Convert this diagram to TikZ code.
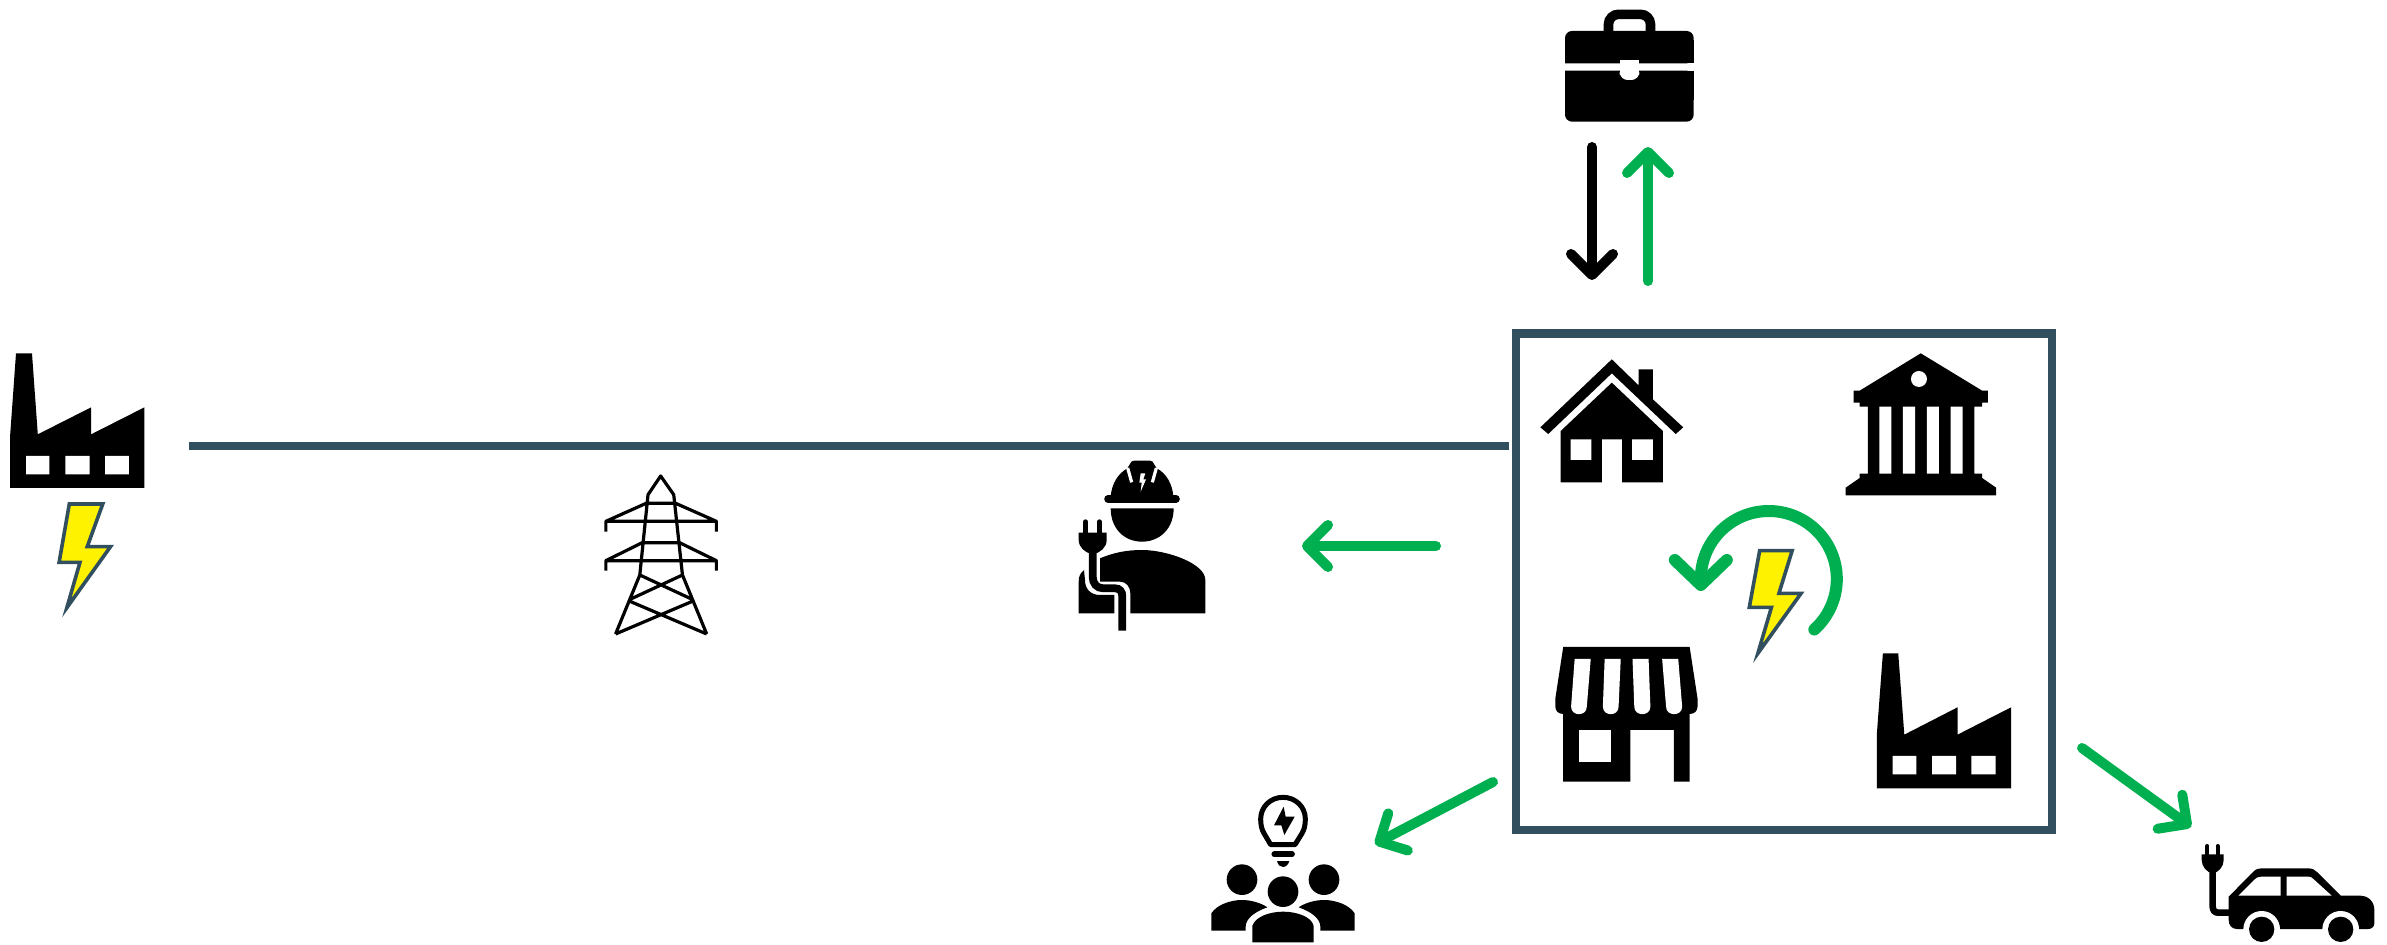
\documentclass[tikz,border=0pt]{standalone}
\usetikzlibrary{arrows.meta}
\definecolor{boxblue}{HTML}{314F5F}
\definecolor{flowgreen}{HTML}{00B050}
\tikzset{
  greenflow/.style={draw=flowgreen,line width=5pt,line cap=round,-{Straight Barb[round,length=10.5pt,width=21pt]}},
  blackflow/.style={draw=black,line width=5pt,line cap=round,-{Straight Barb[round,length=10.5pt,width=21pt]}},
  boltshape/.style={fill=yellow,draw=boxblue,line width=1.8pt,line join=miter},
  zone one/.style={shift={(0,320)},xscale=0.48469,yscale=0.33333},
  zone box/.style={shift={(1500,320)},xscale=0.35714,yscale=0.33333},
  zone worker/.style={shift={(1040,440)},scale=0.33333},
  zone case/.style={shift={(1520,0)},scale=0.33333},
  zone people/.style={shift={(1180,770)},scale=0.33333},
  zone car/.style={shift={(2130,760)},scale=0.33333},
}
\begin{document}
\begin{tikzpicture}[x=0.5pt,y=-0.5pt]
\useasboundingbox (0,0) rectangle (2387,945);
% named ends
\coordinate (gridA) at (189,446);
\coordinate (gridB) at (1509,446);
\coordinate (wS) at (1436,546);
\coordinate (wE) at (1302,546);
\coordinate (bS) at (1592,147);
\coordinate (bE) at (1592,280);
\coordinate (gS) at (1648,281);
\coordinate (gE) at (1648,147);
\coordinate (pS) at (1493,782);
\coordinate (pE) at (1375,844);
\coordinate (cS) at (2082,748);
\coordinate (cE) at (2191,827);
% grid line and box
\draw[boxblue,line width=4.3pt] (gridA) -- (gridB);
\draw[boxblue,line width=4.3pt] (1516,333.5) rectangle (2052,830);
% factory 1, bolt 1, tower
\begin{scope}[zone one]
  \fill (33,100) -- (66,100) -- (78,343) -- (188,262) -- (188,343) -- (298,262) -- (298,504) -- (21,504) -- (21,345) -- cycle;
  \fill[white] (54,408) rectangle (102,463) (135,408) rectangle (185,463) (217,408) rectangle (266,463);
  \path[boltshape] (143,552) -- (212,552) -- (180,680) -- (228,680) -- (138,863) -- (165,727) -- (122,727) -- cycle;
  \draw[line width=1.6pt,line join=round]
    (1270,942) -- (1320,765) -- (1337,524) -- (1363,468) -- (1390,524) -- (1408,765) -- (1458,942)
    (1250,635) -- (1250,604) -- (1333,550) -- (1394,550) -- (1478,604) -- (1478,635)
    (1250,604) -- (1478,604)
    (1250,752) -- (1250,722) -- (1325,668) -- (1402,668) -- (1478,722) -- (1478,752)
    (1250,722) -- (1478,722)
    (1320,765) -- (1428,838) (1408,765) -- (1300,838)
    (1298,843) -- (1458,942) (1430,843) -- (1270,942);
\end{scope}
% worker
\begin{scope}[zone worker]
  \fill (212,170) .. controls (215,130) and (235,100) .. (262,85) -- (270,72) .. controls (272,66) and (276,62) .. (282,62) -- (330,62) .. controls (336,62) and (340,66) .. (342,72) -- (350,85) .. controls (380,100) and (398,135) .. (400,170) -- cycle;
  \draw[line width=3.8pt,line cap=round] (204,176.5) -- (408,176.5);
  \draw[white,line width=1.6pt] (263,84) -- (275,127) (349,84) -- (337,127);
  \fill[white] (302,100) -- (316,100) -- (310,118) -- (318,118) -- (302,155) -- (305,128) -- (298,128) -- cycle;
  \fill (212,205) -- (401,205) .. controls (401,265) and (360,305) .. (306,305) .. controls (252,305) and (212,265) .. (212,205) -- cycle;
  \fill (180,355) .. controls (220,338) and (260,330) .. (306,330) .. controls (380,330) and (496,370) .. (496,420) -- (496,520) -- (271,520) -- (271,460) .. controls (271,440) and (258,425) .. (240,425) -- (180,425) -- cycle;
  \fill (132,390) .. controls (120,400) and (116,410) .. (116,425) -- (116,520) -- (223,520) -- (223,465) -- (180,465) .. controls (150,465) and (135,445) .. (135,420) -- cycle;
  \fill (116,278) -- (200,278) -- (200,300) .. controls (200,322) and (180,340) .. (158,342) .. controls (136,340) and (116,322) .. (116,300) -- cycle;
  \draw[line width=2.7pt,line cap=round] (137,246) -- (137,280) (178,246) -- (178,280);
  \draw[line width=3.9pt] (158,330) -- (158,410) .. controls (158,430) and (170,445) .. (190,445) -- (225,445) .. controls (240,445) and (247,455) .. (247,470) -- (247,572);
\end{scope}
% box content
\begin{scope}[zone box]
  % house
  \fill (113,322) -- (313,118) -- (388,196) -- (388,148) -- (428,148) -- (428,238) -- (513,322) -- (492,342) -- (313,160) -- (135,342) -- cycle;
  \fill (170,333) -- (313,188) -- (456,333) -- (456,487) -- (342,487) -- (342,358) -- (285,358) -- (285,487) -- (170,487) -- cycle;
  \fill[white] (198,358) rectangle (256,420) (370,358) rectangle (428,420);
  % bank
  \fill (1178,100) -- (1350,212) -- (1366,212) -- (1366,248) -- (1350,248) -- (1350,260) -- (1328,260) -- (1328,461) -- (1350,461) -- (1350,474) -- (1389,503) -- (1389,526) -- (968,526) -- (968,503) -- (1007,474) -- (1007,461) -- (1030,461) -- (1030,260) -- (1007,260) -- (1007,248) -- (990,248) -- (990,212) -- (1007,212) -- cycle;
  \fill[white] (1062,260) rectangle (1096,461) (1128,260) rectangle (1162,461) (1195,260) rectangle (1229,461) (1262,260) rectangle (1295,461);
  \fill[white] (1173,177) ellipse [x radius=22.4,y radius=24];
  % shop
  \fill (177,981) -- (531,981) -- (553,1135) -- (553,1160) .. controls (553,1172) and (545,1182) .. (531,1182) -- (531,1385) -- (487,1385) -- (487,1230) -- (365,1230) -- (365,1385) -- (177,1385) -- (177,1182) .. controls (163,1182) and (155,1172) .. (155,1160) -- (155,1135) -- cycle;
  \fill[white] (221,1230) rectangle (311,1325);
  \fill[white] (209,1017) -- (254,1017) -- (243,1160) .. controls (243,1190) and (199,1190) .. (199,1160) -- cycle;
  \fill[white] (293,1017) -- (338,1017) -- (332,1160) .. controls (332,1190) and (288,1190) .. (288,1160) -- cycle;
  \fill[white] (371,1017) -- (416,1017) -- (421,1160) .. controls (421,1190) and (376,1190) .. (376,1160) -- cycle;
  \fill[white] (454,1017) -- (499,1017) -- (510,1160) .. controls (510,1190) and (465,1190) .. (465,1160) -- cycle;
  % factory 2
  \fill (1072,1000) -- (1115,1000) -- (1132,1244) -- (1281,1162) -- (1281,1244) -- (1431,1162) -- (1431,1405) -- (1055,1405) -- (1055,1244) -- cycle;
  \fill[white] (1099,1308) rectangle (1166,1363) (1210,1308) rectangle (1277,1363) (1320,1308) rectangle (1388,1363);
  % bolt 2
  \path[boltshape] (727,692) -- (818,692) -- (781,820) -- (843,820) -- (722,1000) -- (760,862) -- (698,862) -- cycle;
\end{scope}
% cycle arrow
\draw[draw=flowgreen,line width=6pt,line cap=round,-{Straight Barb[round,length=12.5pt,width=26pt]},variable=\t]
  plot[domain=48:-180,samples=80,smooth] ({1768.8+68*cos(\t)},{579+68*sin(\t)}) -- (1700.8,591);
% briefcase
\begin{scope}[zone case]
  \draw[line width=4.8pt,rounded corners=5pt] (265.5,95) -- (265.5,43) -- (391.5,43) -- (391.5,95);
  \fill[rounded corners=3.5pt] (135,190) -- (135,93) -- (521,93) -- (521,190) [sharp corners] -- cycle;
  \fill (135,190) rectangle (521,120);
  \fill[rounded corners=3.5pt] (135,212) -- (135,365) -- (521,365) -- (521,212) [sharp corners] -- cycle;
  \fill (135,212) rectangle (521,300);
  \fill[white] (299,180) rectangle (358,215);
  \fill[white,rounded corners=4pt] (299,200) -- (299,240) -- (358,240) -- (358,200) -- cycle;
\end{scope}
% people and bulb
\begin{scope}[zone people]
  \draw[line width=2.5pt,line join=round] (272,224) -- (345,224) -- (366,190) .. controls (373,178) and (376,165) .. (376,147) .. controls (376,110) and (346,82) .. (309,82) .. controls (272,82) and (242,110) .. (242,147) .. controls (242,165) and (245,178) .. (252,190) -- cycle;
  \fill (311,110) -- (282,166) -- (304,166) -- (313,195) -- (344,140) -- (317,140) -- cycle;
  \draw[line width=2.9pt,line cap=round] (283,253) -- (336,253);
  \fill (291,273) -- (328,273) .. controls (325,285) and (316,291) .. (309,291) .. controls (302,291) and (293,285) .. (291,273) -- cycle;
  \fill (186,329) circle [radius=46];
  \fill (432,329) circle [radius=46];
  \fill (309,365) circle [radius=46];
  \fill (94,482) -- (94,430) .. controls (110,405) and (150,390) .. (186,390) .. controls (215,390) and (245,400) .. (262,412) .. controls (225,425) and (197,445) .. (197,470) -- (197,482) -- cycle;
  \fill (524,482) -- (524,430) .. controls (508,405) and (468,390) .. (432,390) .. controls (403,390) and (373,400) .. (356,412) .. controls (393,425) and (421,445) .. (421,470) -- (421,482) -- cycle;
  \fill (217,517) -- (217,468) .. controls (225,440) and (270,425) .. (309,425) .. controls (350,425) and (395,440) .. (401,468) -- (401,517) -- cycle;
\end{scope}
% car
\begin{scope}[zone car]
  \fill (296,410) -- (370,335) .. controls (378,327) and (385,325) .. (395,325) -- (535,325) .. controls (548,325) and (555,330) .. (562,337) -- (632,407) -- (690,407) .. controls (715,407) and (733,425) .. (733,450) -- (733,490) .. controls (733,500) and (725,507) .. (715,507) -- (320,507) .. controls (305,507) and (296,495) .. (296,480) -- cycle;
  \fill[white] (325,407) -- (372,360) .. controls (378,353) and (385,350) .. (395,350) -- (452,350) -- (452,407) -- cycle;
  \fill[white] (470,350) -- (535,350) .. controls (542,350) and (545,352) .. (550,357) -- (605,407) -- (470,407) -- cycle;
  \fill[white] (395,508) circle [radius=55] (632,508) circle [radius=55];
  \fill (395,508) circle [radius=38] (632,508) circle [radius=38];
  \fill (215,283) -- (281,283) -- (281,300) .. controls (281,320) and (265,338) .. (248,340) .. controls (231,338) and (215,320) .. (215,300) -- cycle;
  \draw[line width=2pt,line cap=round] (232,258) -- (232,285) (263,258) -- (263,285);
  \draw[line width=3.3pt] (248,330) -- (248,440) .. controls (248,450) and (254,458) .. (264,458) -- (300,458);
\end{scope}
% flows
\draw[greenflow] (wS) -- (wE);
\draw[blackflow] (bS) -- (bE);
\draw[greenflow] (gS) -- (gE);
\draw[greenflow] (pS) -- (pE);
\draw[greenflow] (cS) -- (cE);
\end{tikzpicture}
\end{document}
